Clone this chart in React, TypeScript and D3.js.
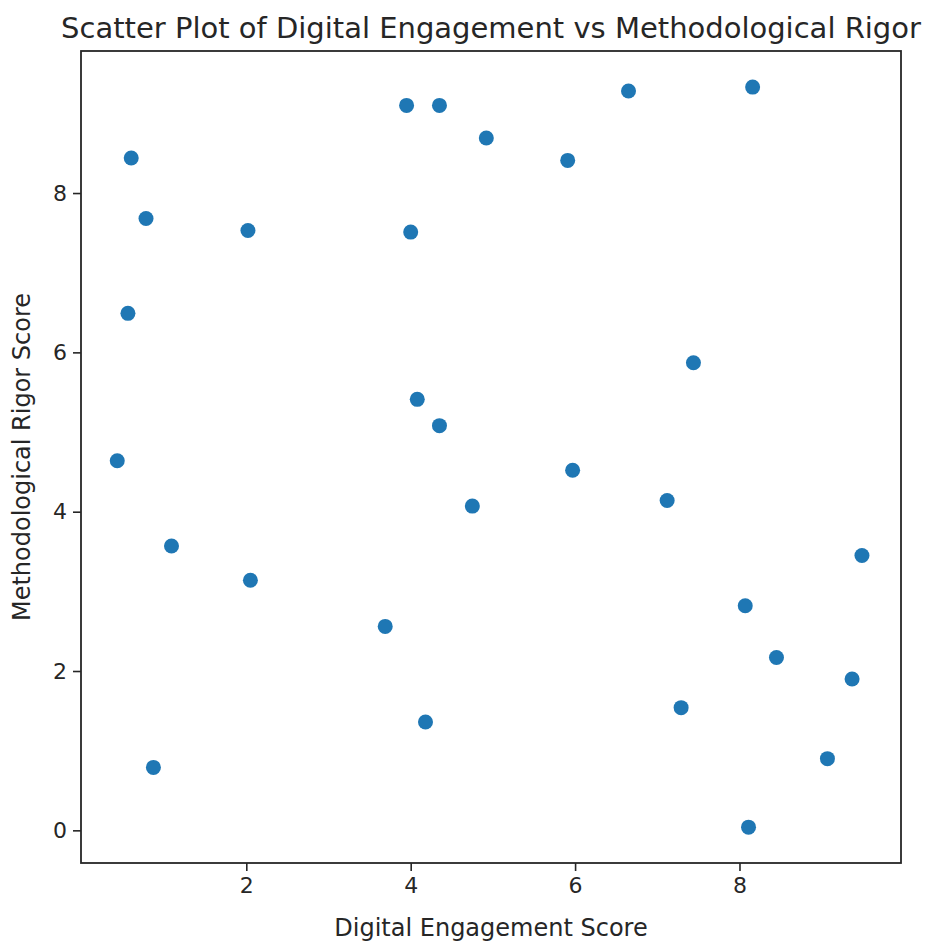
import React, { useRef, useEffect } from 'react';
import * as d3 from 'd3';

// digital engagement (x) and methodological rigor (y)
const engagement = [
  0.60, 0.78, 0.56, 0.43, 1.09, 0.87, 2.02, 2.05, 3.95, 4.35,
  4.92, 4.00, 4.08, 4.35, 4.75, 3.69, 4.18, 5.91, 6.65, 5.97,
  7.44, 7.12, 7.29, 8.16, 9.49, 8.07, 8.45, 9.37, 9.07, 8.11,
];
const rigor = [
  8.44, 7.68, 6.49, 4.64, 3.57, 0.79, 7.53, 3.14, 9.10, 9.10,
  8.69, 7.51, 5.41, 5.08, 4.07, 2.56, 1.36, 8.41, 9.28, 4.52,
  5.87, 4.14, 1.54, 9.33, 3.45, 2.82, 2.17, 1.90, 0.90, 0.04,
];
const xTicks = [2, 4, 6, 8];
const yTicks = [0, 2, 4, 6, 8];

const title = 'Scatter Plot of Digital Engagement vs Methodological Rigor';
const xLabel = 'Digital Engagement Score';
const yLabel = 'Methodological Rigor Score';

const App = () => {
  const svgRef = useRef<SVGSVGElement>(null);

  useEffect(() => {
    const svg = d3.select(svgRef.current);
    svg.selectAll('*').remove();

    const width = 929;
    const height = 945;
    // plot frame, in page pixels
    const margin = { top: 51, right: 28, bottom: 82, left: 81 };
    const innerW = width - margin.left - margin.right;
    const innerH = height - margin.top - margin.bottom;

    const x = d3.scaleLinear().domain([-0.011, 9.965]).range([0, innerW]);
    const y = d3.scaleLinear().domain([-0.41, 9.783]).range([innerH, 0]);

    const g = svg.append('g').attr('transform', `translate(${margin.left},${margin.top})`);
    const font = '"DejaVu Sans", sans-serif';
    const ink = '#262626';

    // points
    g.append('g')
      .selectAll('circle')
      .data(engagement.map((v, i) => ({ x: v, y: rigor[i] })))
      .enter()
      .append('circle')
      .attr('cx', d => x(d.x))
      .attr('cy', d => y(d.y))
      .attr('r', 7.5)
      .attr('fill', '#1f77b4');

    // x axis
    const xAxis = g.append('g')
      .attr('transform', `translate(0,${innerH})`)
      .call(d3.axisBottom(x).tickValues(xTicks).tickFormat(d3.format('d')).tickSize(8).tickPadding(6));
    xAxis.select('.domain').remove();
    xAxis.selectAll('line').attr('stroke', ink).attr('stroke-width', 1.6);
    xAxis.selectAll('text').attr('font-family', font).attr('font-size', 22).attr('fill', ink);

    // y axis
    const yAxis = g.append('g')
      .call(d3.axisLeft(y).tickValues(yTicks).tickFormat(d3.format('d')).tickSize(8).tickPadding(6));
    yAxis.select('.domain').remove();
    yAxis.selectAll('line').attr('stroke', ink).attr('stroke-width', 1.6);
    yAxis.selectAll('text').attr('font-family', font).attr('font-size', 22).attr('fill', ink);

    // frame
    g.append('rect')
      .attr('width', innerW)
      .attr('height', innerH)
      .attr('fill', 'none')
      .attr('stroke', ink)
      .attr('stroke-width', 1.8);

    svg.append('text')
      .attr('x', margin.left + innerW / 2)
      .attr('y', 38)
      .attr('text-anchor', 'middle')
      .attr('font-family', font)
      .attr('font-size', 29)
      .attr('fill', ink)
      .text(title);

    svg.append('text')
      .attr('x', margin.left + innerW / 2)
      .attr('y', 936)
      .attr('text-anchor', 'middle')
      .attr('font-family', font)
      .attr('font-size', 24)
      .attr('fill', ink)
      .text(xLabel);

    svg.append('text')
      .attr('transform', `translate(30,${margin.top + innerH / 2}) rotate(-90)`)
      .attr('text-anchor', 'middle')
      .attr('font-family', font)
      .attr('font-size', 24)
      .attr('fill', ink)
      .text(yLabel);
  }, []);

  return (
    <svg
      ref={svgRef}
      width={929}
      height={945}
      style={{ position: 'absolute', left: 0, top: 0, background: '#fff' }}
    />
  );
};

export default App;
